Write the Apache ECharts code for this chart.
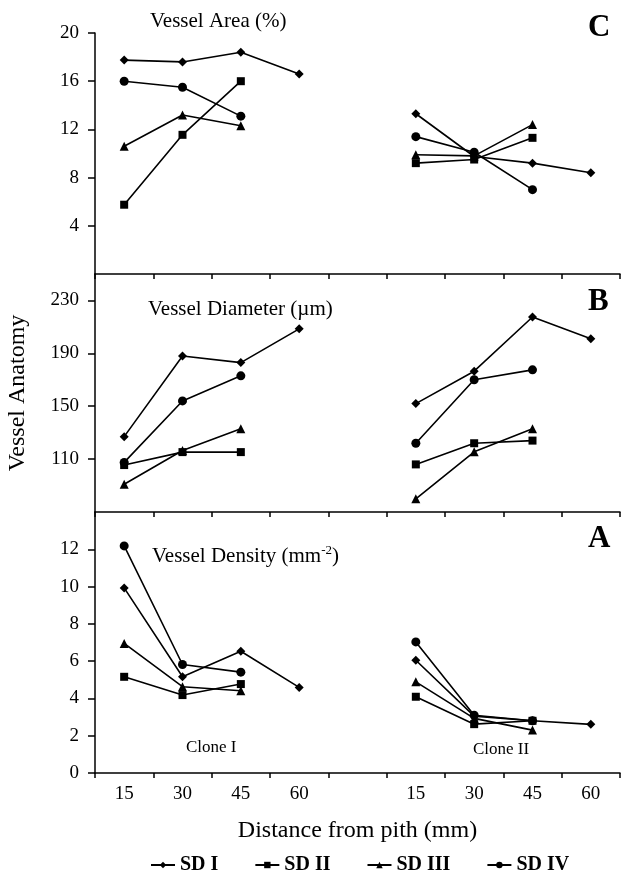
<!DOCTYPE html>
<html>
<head>
<meta charset="utf-8">
<title>Vessel Anatomy</title>
<script src="https://cdn.jsdelivr.net/npm/echarts@6/dist/echarts.min.js"></script>
<style>
  html, body { margin: 0; padding: 0; background: #fff; }
  #chart { width: 622px; height: 877px; }
</style>
</head>
<body>
<div id="chart"></div>
<script>
// x categories: two clones side by side, blank slot between them
const distance = ['15', '30', '45', '60', '', '15', '30', '45', '60'];
const seriesNames = ['SD I', 'SD II', 'SD III', 'SD IV'];

// C - Vessel Area (%)
const areaSD1 = [17.75, 17.6, 18.4, 16.6, null, 13.3, 9.75, 9.2, 8.4];
const areaSD2 = [5.75, 11.55, 16.0, null, null, 9.2, 9.5, 11.3, null];
const areaSD3 = [10.6, 13.2, 12.3, null, null, 9.9, 9.8, 12.4, null];
const areaSD4 = [16.0, 15.5, 13.1, null, null, 11.4, 10.1, 7.0, null];

// B - Vessel Diameter (µm)
const diamSD1 = [127, 188, 183, 208.5, null, 152, 176.5, 217.5, 201];
const diamSD2 = [105.5, 115.3, 115.3, null, null, 106, 122, 124, null];
const diamSD3 = [91, 116.5, 133, null, null, 80, 115.5, 133, null];
const diamSD4 = [107.5, 154, 173, null, null, 122, 170, 177.5, null];

// A - Vessel Density (mm-2)
const densSD1 = [9.93, 5.16, 6.53, 4.59, null, 6.05, 3.05, 2.8, 2.61];
const densSD2 = [5.16, 4.18, 4.77, null, null, 4.09, 2.62, 2.8, null];
const densSD3 = [6.95, 4.63, 4.41, null, null, 4.89, 2.93, 2.3, null];
const densSD4 = [12.18, 5.82, 5.41, null, null, 7.03, 3.1, 2.8, null];

const serif = "'Liberation Serif', 'Times New Roman', serif";
const symbols = ['diamond', 'rect', 'triangle', 'circle'];
const symbolSizes = [9, 8, 9, 9];

const chart = echarts.init(document.getElementById('chart'));

function xAxisFor(gridIndex, showLabels) {
  return {
    type: 'category',
    gridIndex: gridIndex,
    data: distance,
    boundaryGap: true,
    axisLine: { onZero: false, lineStyle: { color: '#000', width: 1.5 } },
    axisTick: { show: true, interval: 0, length: 5, lineStyle: { color: '#000', width: 1.5 } },
    axisLabel: {
      show: showLabels,
      interval: 0,
      margin: 12,
      color: '#000',
      fontFamily: serif,
      fontSize: 19
    },
    splitLine: { show: false }
  };
}

function yAxisFor(gridIndex, min, max, interval, extra) {
  return Object.assign({
    type: 'value',
    gridIndex: gridIndex,
    min: min,
    max: max,
    interval: interval,
    axisLine: { show: true, onZero: false, lineStyle: { color: '#000', width: 1.5 } },
    axisTick: { show: true, length: 7, lineStyle: { color: '#000', width: 1.5 } },
    axisLabel: { margin: 16, color: '#000', fontFamily: serif, fontSize: 19 },
    splitLine: { show: false }
  }, extra);
}

function panelSeries(gridIndex, arrays) {
  return arrays.map((arr, i) => ({
    name: seriesNames[i],
    type: 'line',
    xAxisIndex: gridIndex,
    yAxisIndex: gridIndex,
    data: arr,
    connectNulls: false,
    symbol: symbols[i],
    symbolSize: symbolSizes[i],
    lineStyle: { color: '#000', width: 1.6 },
    itemStyle: { color: '#000' }
  }));
}

function label(x, y, text, size, bold) {
  return {
    type: 'text',
    left: x,
    top: y,
    style: {
      text: text,
      fill: '#000',
      font: (bold ? 'bold ' : '') + size + 'px ' + serif
    }
  };
}

const option = {
  animation: false,
  backgroundColor: '#fff',
  grid: [
    { left: 95, right: 2, top: 33, height: 241, outerBoundsMode: 'none' },
    { left: 95, right: 2, top: 274, height: 238, outerBoundsMode: 'none' },
    { left: 95, right: 2, top: 512, height: 261, outerBoundsMode: 'none' }
  ],
  legend: {
    data: seriesNames,
    left: 145,
    top: 850,
    itemGap: 36,
    itemWidth: 24,
    itemHeight: 8,
    textStyle: { color: '#000', fontFamily: serif, fontSize: 20, fontWeight: 'bold' }
  },
  xAxis: [
    xAxisFor(0, false),
    xAxisFor(1, false),
    Object.assign(xAxisFor(2, true), {
      name: 'Distance from pith (mm)',
      nameLocation: 'middle',
      nameGap: 46,
      nameTextStyle: { color: '#000', fontFamily: serif, fontSize: 24 }
    })
  ],
  yAxis: [
    yAxisFor(0, 0, 20, 4, { axisLabel: { margin: 16, color: '#000', fontFamily: serif, fontSize: 19, showMinLabel: false } }),
    yAxisFor(1, 70, 250, 40, {
      axisLabel: { margin: 16, color: '#000', fontFamily: serif, fontSize: 19, showMinLabel: false, showMaxLabel: false },
      name: 'Vessel Anatomy',
      nameLocation: 'middle',
      nameGap: 65,
      nameTextStyle: { color: '#000', fontFamily: serif, fontSize: 24 }
    }),
    yAxisFor(2, 0, 14, 2, { axisLabel: { margin: 16, color: '#000', fontFamily: serif, fontSize: 19, showMaxLabel: false } })
  ],
  graphic: [
    label(150, 11, 'Vessel Area (%)', 21, false),
    label(148, 299, 'Vessel Diameter (\u00b5m)', 21, false),
    {
      type: 'text',
      left: 152,
      top: 544,
      style: {
        text: '{a|Vessel Density (mm}{s|-2}{a|)}',
        fill: '#000',
        rich: {
          a: { fontFamily: serif, fontSize: 21, fill: '#000', verticalAlign: 'bottom' },
          s: { fontFamily: serif, fontSize: 13, fill: '#000', verticalAlign: 'top', padding: [0, 0, 10, 0] }
        }
      }
    },
    label(588, 12, 'C', 31, true),
    label(588, 286, 'B', 31, true),
    label(588, 523, 'A', 31, true),
    label(186, 739, 'Clone I', 17, false),
    label(473, 741, 'Clone II', 17, false)
  ],
  series: [].concat(
    panelSeries(0, [areaSD1, areaSD2, areaSD3, areaSD4]),
    panelSeries(1, [diamSD1, diamSD2, diamSD3, diamSD4]),
    panelSeries(2, [densSD1, densSD2, densSD3, densSD4])
  )
};

chart.setOption(option);
</script>
</body>
</html>
